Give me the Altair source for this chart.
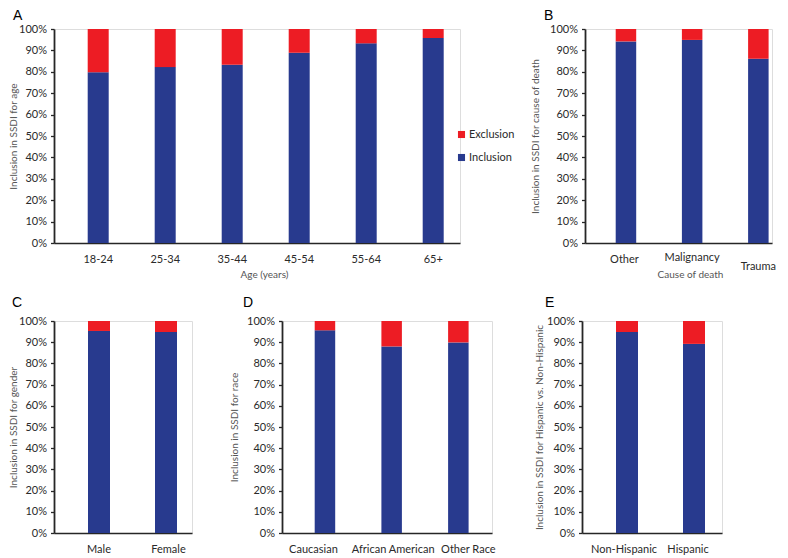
import altair as alt
import pandas as pd

# ---------------- data (percent) ----------------
age_groups = ["18-24", "25-34", "35-44", "45-54", "55-64", "65+"]
age_incl = [79.8, 82.2, 83.3, 88.9, 93.3, 95.8]
age_excl = [20.2, 17.8, 16.7, 11.1, 6.7, 4.2]

cause_groups = ["Other", "Malignancy", "Trauma"]
cause_incl = [94.2, 94.9, 86.1]
cause_excl = [5.8, 5.1, 13.9]

gender_groups = ["Male", "Female"]
gender_incl = [95.3, 94.8]
gender_excl = [4.7, 5.2]

race_groups = ["Caucasian", "African American", "Other Race"]
race_incl = [95.6, 88.0, 89.9]
race_excl = [4.4, 12.0, 10.1]

eth_groups = ["Non-Hispanic", "Hispanic"]
eth_incl = [94.8, 89.2]
eth_excl = [5.2, 10.8]

series = ["Exclusion", "Inclusion"]
series_colors = ["#ED1C24", "#283A8E"]
y_tick_values = [0, 10, 20, 30, 40, 50, 60, 70, 80, 90, 100]

LABEL_FONT = "Lato"
TEXT_COLOR = "#2a2a2a"
TITLE_COLOR = "#555555"
AXIS_COLOR = "#262626"


def make_df(groups, incl, excl):
    rows = []
    for g, i, e in zip(groups, incl, excl):
        rows.append({"group": g, "status": "Inclusion", "value": i / 100, "ord": 0})
        rows.append({"group": g, "status": "Exclusion", "value": e / 100, "ord": 1})
    return pd.DataFrame(rows)


def band_scale(width, n, step, bw, left_gap):
    space = width - ((n - 1) * step + bw)
    return alt.Scale(
        paddingInner=1 - bw / step,
        paddingOuter=space / (2 * step),
        align=left_gap / space,
    )


def per_label(mapping, default):
    """Conditional axis value keyed on the label text."""
    if not mapping:
        return default
    return {
        "condition": [
            {"test": f"datum.value === '{k}'", "value": v} for k, v in mapping.items()
        ],
        "value": default,
    }


def panel(df, groups, width, height, step, bw, left_gap, letter, letter_dx,
          letter_offset, ytitle, ytitle_x, xtitle=None, xtitle_x=None,
          label_padding=None, label_offset=None, legend=None):
    xaxis_kwargs = dict(
        labelAngle=0, ticks=False, tickSize=0,
        labelPadding=per_label(label_padding, 10),
        labelOffset=per_label(label_offset, 0),
        labelFont=LABEL_FONT, labelFontSize=11, labelColor=TEXT_COLOR,
        domainColor=AXIS_COLOR, domainWidth=1.6, grid=False,
    )
    if xtitle is not None:
        xaxis_kwargs.update(
            title=xtitle, titleX=xtitle_x, titleY=26, titleFont=LABEL_FONT,
            titleFontSize=10, titleFontWeight="normal", titleColor=TITLE_COLOR,
        )
    else:
        xaxis_kwargs.update(title=None)
    x = alt.X(
        "group:N", sort=groups,
        scale=band_scale(width, len(groups), step, bw, left_gap),
        axis=alt.Axis(**xaxis_kwargs),
    )
    y = alt.Y(
        "value:Q", stack="zero",
        scale=alt.Scale(domain=[0, 1], nice=False),
        axis=alt.Axis(
            title=ytitle, titleX=ytitle_x, titleFont=LABEL_FONT, titleFontSize=10,
            titleFontWeight="normal", titleColor=TITLE_COLOR,
            values=[v / 100 for v in y_tick_values], format=".0%",
            labelFont=LABEL_FONT, labelFontSize=11, labelColor=TEXT_COLOR,
            labelPadding=4, tickSize=3.5, tickColor=AXIS_COLOR, tickWidth=1.3,
            domainColor=AXIS_COLOR, domainWidth=1.8, grid=False,
        ),
    )
    color = alt.Color(
        "status:N",
        scale=alt.Scale(domain=series, range=series_colors),
        legend=legend,
    )
    return alt.Chart(df).mark_bar().encode(
        x=x, y=y, color=color, order=alt.Order("ord:Q")
    ).properties(
        width=width, height=height,
        title=alt.TitleParams(
            letter, anchor="start", frame="group", dx=letter_dx, offset=letter_offset,
            font="Liberation Sans", fontSize=14, fontWeight="normal", color="#000000",
        ),
    )


legend_a = alt.Legend(
    title=None, orient="none", legendX=402, legendY=100,
    symbolType="square", symbolSize=50, symbolStrokeWidth=0, symbolOpacity=1,
    labelFont=LABEL_FONT, labelFontSize=11, labelColor=TEXT_COLOR,
    rowPadding=11, labelOffset=2,
)

pa = panel(make_df(age_groups, age_incl, age_excl), age_groups, 406, 214,
           67, 21, 33.7, "A", -41, 0, "Inclusion in SSDI for age", -35.5,
           xtitle="Age (years)", xtitle_x=210, legend=legend_a)
pb = panel(make_df(cause_groups, cause_incl, cause_excl), cause_groups, 187, 214,
           66.2, 20.5, 30.7, "B", -41, 0, "Inclusion in SSDI for cause of death", -45,
           xtitle="Cause of death", xtitle_x=105,
           label_padding={"Trauma": 17, "Malignancy": 8},
           label_offset={"Other": -1.5})
pc = panel(make_df(gender_groups, gender_incl, gender_excl), gender_groups, 138, 212,
           67, 22, 34, "C", -42, 5, "Inclusion in SSDI for gender", -35.5,
           label_offset={"Female": 2.5})
pd_ = panel(make_df(race_groups, race_incl, race_excl), race_groups, 210, 212,
            66.7, 20.5, 32.7, "D", -39, 5, "Inclusion in SSDI for race", -43,
            label_offset={"Caucasian": -11.5, "African American": 1.5, "Other Race": 10})
pe = panel(make_df(eth_groups, eth_incl, eth_excl), eth_groups, 140, 212,
           67, 22, 34, "E", -37, 5, "Inclusion in SSDI for Hispanic vs. Non-Hispanic", -38,
           label_offset={"Non-Hispanic": -3, "Hispanic": -6})

row1 = alt.hconcat(pa, pb, spacing=125, bounds="flush")
row2 = alt.hconcat(pc, pd_, pe, spacing=90, bounds="flush")

chart = alt.vconcat(row1, row2, spacing=15).properties(
    padding={"left": 0, "top": 0, "right": 0, "bottom": 0}
).configure_view(stroke=None).configure(background="white")

chart.save("out.html", embed_options={"renderer": "svg", "actions": False})
